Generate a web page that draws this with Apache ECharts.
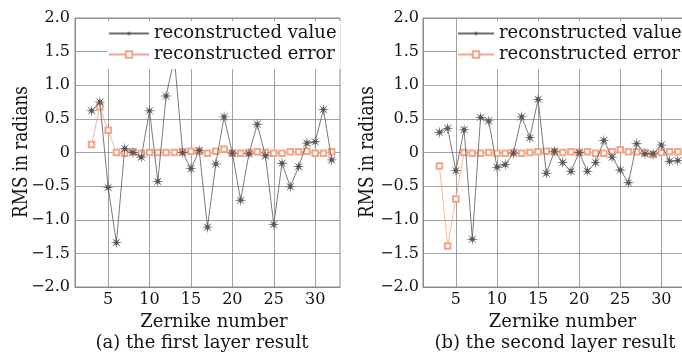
<!DOCTYPE html>
<html>
<head>
<meta charset="utf-8">
<script src="https://cdn.jsdelivr.net/npm/echarts@6/dist/echarts.min.js"></script>
<style>
html, body { margin: 0; padding: 0; background: #fff; }
#chart { width: 682px; height: 355px; }
</style>
</head>
<body>
<div id="chart"></div>
<script>
// Zernike mode indices (x values)
const zernikeIndex = [3, 4, 5, 6, 7, 8, 9, 10, 11, 12, 13, 14, 15, 16, 17, 18, 19, 20, 21, 22, 23, 24, 25, 26, 27, 28, 29, 30, 31, 32];

// (a) first layer
const valueFirst = [0.62, 0.75, -0.52, -1.34, 0.06, 0.00, -0.07, 0.62, -0.43, 0.84, 1.40, 0.00, -0.24, 0.03, -1.11, -0.17, 0.53, -0.01, -0.71, -0.02, 0.42, -0.05, -1.07, -0.16, -0.51, -0.21, 0.14, 0.16, 0.64, -0.11];
const errorFirst = [0.12, 0.68, 0.33, 0.00, -0.01, 0.01, -0.01, 0.00, 0.00, 0.00, 0.00, 0.01, 0.02, 0.02, -0.01, 0.02, 0.05, -0.01, -0.01, 0.00, 0.01, 0.00, -0.01, -0.01, 0.01, 0.01, 0.02, -0.01, -0.01, 0.01];

// (b) second layer
const valueSecond = [0.30, 0.36, -0.27, 0.34, -1.29, 0.52, 0.47, -0.22, -0.18, -0.01, 0.53, 0.22, 0.79, -0.31, 0.02, -0.15, -0.28, 0.00, -0.28, -0.15, 0.18, -0.07, -0.26, -0.45, 0.13, -0.02, -0.02, 0.11, -0.13, -0.12];
const errorSecond = [-0.20, -1.39, -0.69, 0.00, -0.01, -0.01, 0.00, -0.01, -0.01, 0.00, -0.01, 0.00, 0.01, 0.02, 0.01, 0.00, 0.01, 0.00, 0.01, -0.01, -0.01, 0.01, 0.04, 0.01, 0.01, 0.00, -0.03, 0.00, 0.01, 0.01];

// Axis ticks
const xTickValues = [5, 10, 15, 20, 25, 30];
const yTickValues = [-2, -1.5, -1, -0.5, 0, 0.5, 1, 1.5, 2];
const yTickLabels = ['\u22122.0', '\u22121.5', '\u22121.0', '\u22120.5', '0', '0.5', '1.0', '1.5', '2.0'];

const seriesNames = ['reconstructed value', 'reconstructed error'];
const panelTitles = ['(a) the first layer result', '(b) the second layer result'];
const xName = 'Zernike number';
const yName = 'RMS in radians';

const FONT = '"DejaVu Serif", "Liberation Serif", serif';
const TEXT = '#141414';
const GRID_LINE = '#8a8a8a';
const VALUE_COLOR = '#585858';
const ERROR_COLOR = '#f5a488';

// eight-armed star marker
function starPath() {
  const pts = [];
  const R = 10, r = 2.8;
  for (let k = 0; k < 16; k++) {
    const a = Math.PI / 8 * k - Math.PI / 2;
    const rad = k % 2 === 0 ? R : r;
    pts.push((10 + rad * Math.cos(a)).toFixed(2) + ' ' + (10 + rad * Math.sin(a)).toFixed(2));
  }
  return 'path://M' + pts.join(' L') + ' Z';
}
const STAR = starPath();

function pairs(xs, ys) { return xs.map((x, i) => [x, ys[i]]); }

const grids = [
  { left: 75, top: 18, width: 265, height: 269 },
  { left: 423, top: 18, width: 263, height: 269 }
];

function xAxisFor(i, namePad) {
  return {
    type: 'value', gridIndex: i, min: 1, max: 33,
    axisLine: { show: true, onZero: false, lineStyle: { color: GRID_LINE, width: 1 } },
    axisTick: { show: false, customValues: xTickValues },
    axisLabel: { customValues: xTickValues, fontSize: 16, fontFamily: FONT, color: TEXT, margin: 5 },
    splitLine: { show: true, lineStyle: { color: GRID_LINE, width: 0.8 } },
    name: xName, nameLocation: 'middle', nameGap: 26,
    nameTextStyle: { fontSize: 18, fontFamily: FONT, color: TEXT, padding: [0, 0, 0, namePad] }
  };
}

function yAxisFor(i, labelMargin) {
  return {
    type: 'value', gridIndex: i, min: -2, max: 2, interval: 0.5,
    axisLine: { show: true, lineStyle: { color: GRID_LINE, width: 1 } },
    axisTick: { show: false },
    axisLabel: {
      fontSize: 16, fontFamily: FONT, color: TEXT, margin: labelMargin,
      formatter: v => yTickLabels[yTickValues.indexOf(Math.round(v * 2) / 2)]
    },
    splitLine: { show: true, lineStyle: { color: GRID_LINE, width: 0.8 } }
  };
}

function valueSeries(i, data) {
  return {
    name: seriesNames[0], type: 'line', xAxisIndex: i, yAxisIndex: i,
    data: pairs(zernikeIndex, data),
    symbol: STAR, symbolSize: 12, showAllSymbol: true,
    lineStyle: { color: '#6b6b6b', width: 0.9 },
    itemStyle: { color: VALUE_COLOR },
    z: 3
  };
}

function errorSeries(i, data) {
  return {
    name: seriesNames[1], type: 'line', xAxisIndex: i, yAxisIndex: i,
    data: pairs(zernikeIndex, data),
    symbol: 'emptyRect', symbolSize: 5.5, showAllSymbol: true,
    lineStyle: { color: ERROR_COLOR, width: 0.8 },
    itemStyle: { color: ERROR_COLOR, borderColor: ERROR_COLOR, borderWidth: 0.9 },
    z: 2
  };
}

function legendFor(left, itemWidth, pad) {
  return {
    left: left, top: 21, orient: 'vertical',
    itemWidth: itemWidth, itemHeight: 8, itemGap: 0,
    backgroundColor: '#ffffff', padding: pad,
    textStyle: { fontSize: 18, fontFamily: FONT, color: TEXT, lineHeight: 21 },
    data: seriesNames
  };
}

const chart = echarts.init(document.getElementById('chart'), null, { renderer: 'canvas' });
chart.setOption({
  animation: false,
  backgroundColor: '#ffffff',
  grid: grids.map(g => Object.assign({
    show: true, borderColor: GRID_LINE, borderWidth: 1, backgroundColor: 'transparent',
    containLabel: false, outerBoundsMode: 'none'
  }, g)),
  xAxis: [xAxisFor(0, 13), xAxisFor(1, 16)],
  yAxis: [yAxisFor(0, 5), yAxisFor(1, 4)],
  legend: [legendFor(107, 40, [2, 4, 4, 1]), legendFor(457, 36, [2, 0, 4, 0])],
  title: [
    { text: panelTitles[0], left: 202, top: 334, textAlign: 'center', padding: 0,
      textStyle: { fontSize: 18, fontWeight: 'normal', fontFamily: FONT, color: TEXT } },
    { text: panelTitles[1], left: 555, top: 334, textAlign: 'center', padding: 0,
      textStyle: { fontSize: 18, fontWeight: 'normal', fontFamily: FONT, color: TEXT } }
  ],
  graphic: [
    { type: 'text', x: 22, y: 152, rotation: Math.PI / 2, scaleX: 0.8,
      style: { text: yName, font: '21px ' + FONT, fill: TEXT, align: 'center', verticalAlign: 'middle' } },
    { type: 'text', x: 368, y: 152, rotation: Math.PI / 2, scaleX: 0.8,
      style: { text: yName, font: '21px ' + FONT, fill: TEXT, align: 'center', verticalAlign: 'middle' } }
  ],
  series: [
    valueSeries(0, valueFirst), errorSeries(0, errorFirst),
    valueSeries(1, valueSecond), errorSeries(1, errorSecond)
  ]
});
</script>
</body>
</html>
